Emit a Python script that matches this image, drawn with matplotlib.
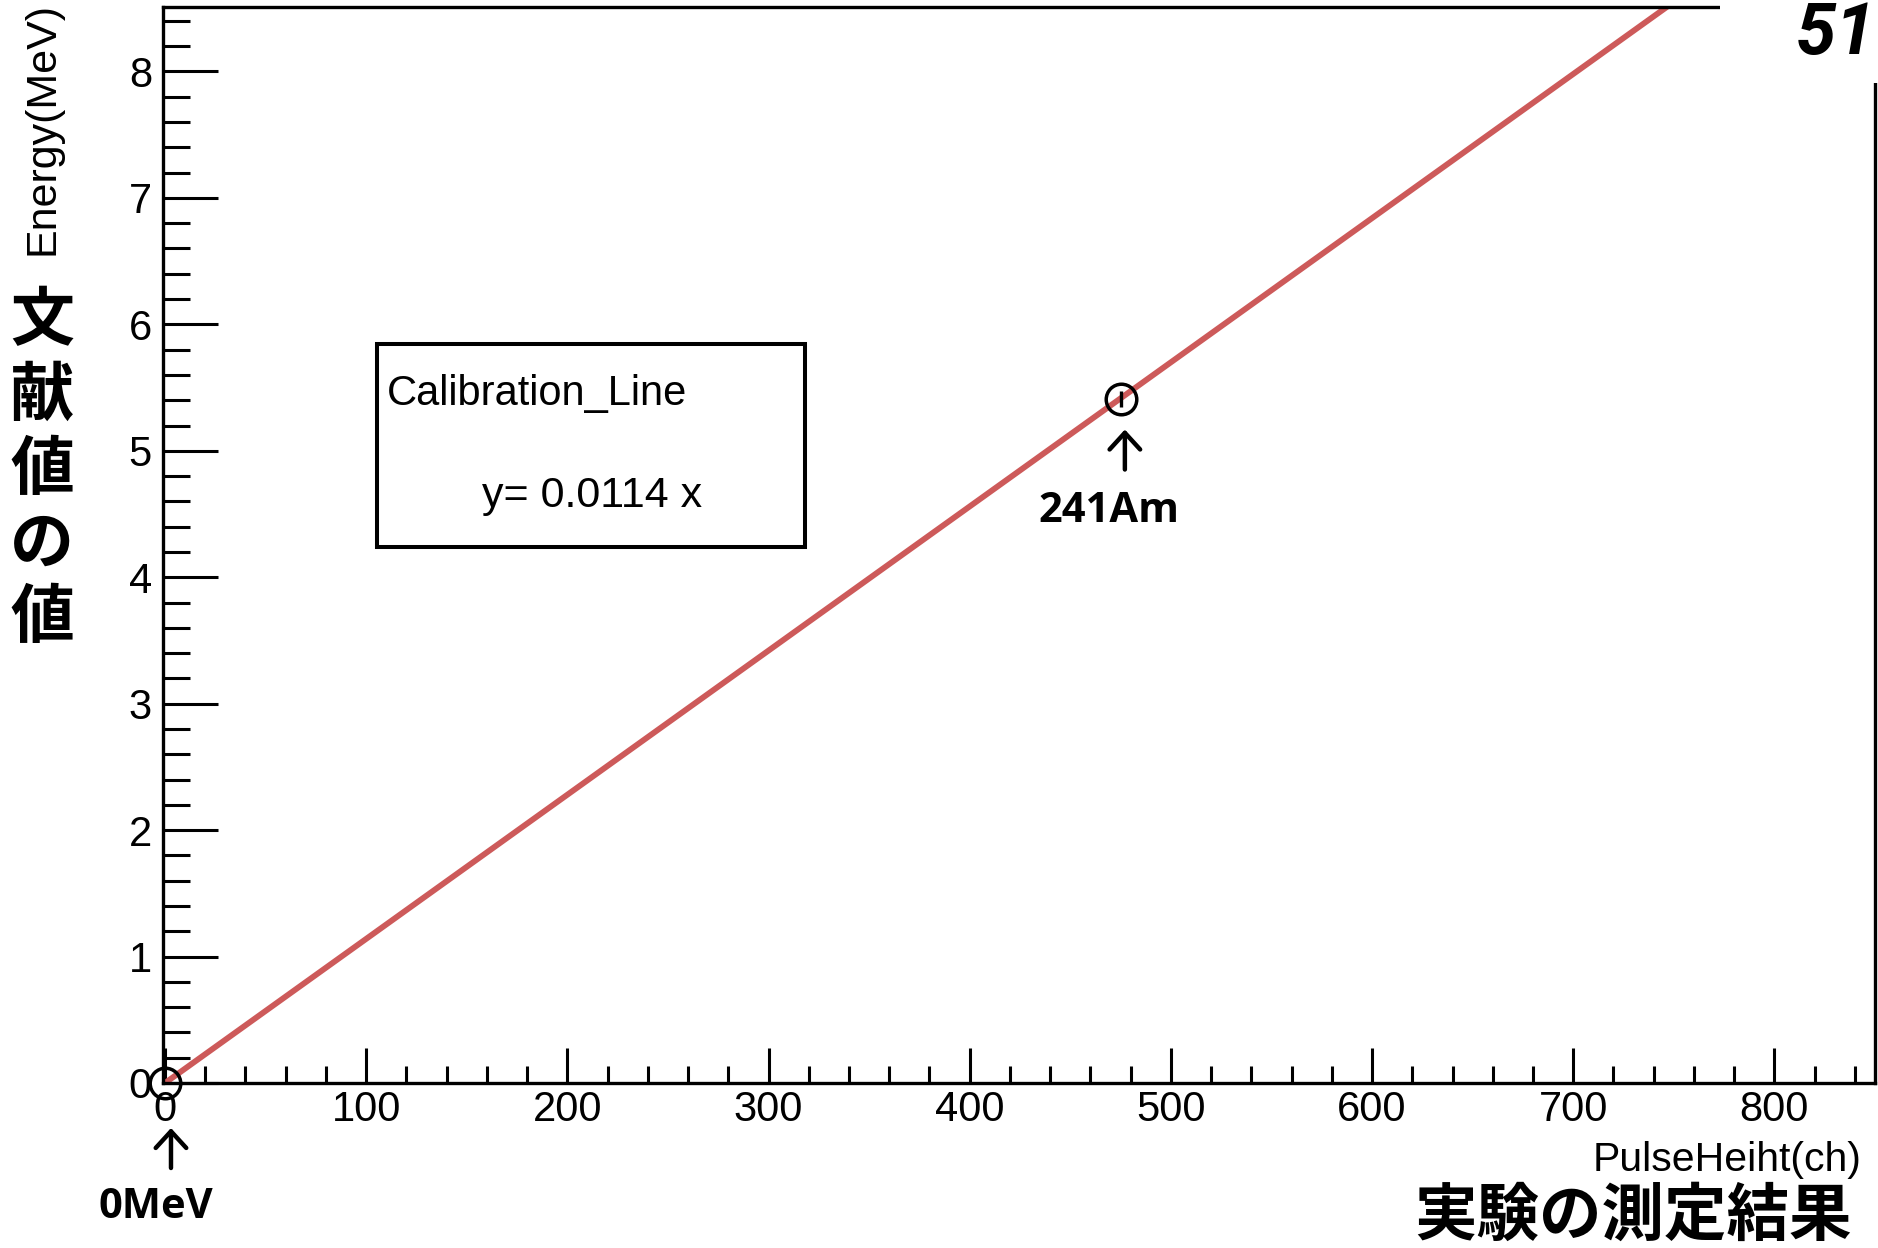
import numpy as np
import matplotlib
matplotlib.use("Agg")
import matplotlib.pyplot as plt
from matplotlib.patches import Rectangle
from matplotlib.transforms import offset_copy

# calibration data
slope = 0.0114
pulse_ch = [0.0, 475.4]        # measured peak position (ch)
energy_mev = [0.0, 5.41]       # literature energy (MeV)
energy_err = [0.0, 0.06]
point_labels = ["0MeV", "241Am"]
fit_range = [0.0, 850.0]

x_ticks = np.arange(0, 801, 100)
y_ticks = np.arange(0, 9, 1)

fig = plt.figure(figsize=(18.78, 12.48), dpi=100)
ax = fig.add_axes([163 / 1878, 1 - 1083 / 1248, 1712 / 1878, 1076 / 1248])

# Fit line
fx = np.array(fit_range)
ax.plot(fx, slope * fx, color="#CD5A5A", lw=4.2, zorder=2, solid_capstyle="butt")

# Points
ax.errorbar(pulse_ch, energy_mev, yerr=energy_err, fmt="o", ms=22, mfc="none",
            mec="black", mew=2.5, ecolor="black", elinewidth=2.4, capsize=0, zorder=3,
            clip_on=False)

ax.set_xlim(-1, 850)
ax.set_ylim(0, 8.51)
ax.set_xticks(x_ticks)
ax.set_yticks(y_ticks)
ax.set_xticks(np.arange(0, 851, 20), minor=True)
ax.set_yticks(np.arange(0, 8.51, 0.2), minor=True)

for sp in ax.spines.values():
    sp.set_linewidth(2.4)
ax.tick_params(axis="both", which="both", direction="in", width=2.2,
               labelsize=30, labelfontfamily="Liberation Sans")
ax.tick_params(axis="y", which="major", length=39.5, pad=8)
ax.tick_params(axis="y", which="minor", length=19.5)
ax.tick_params(axis="x", which="major", length=25, pad=5)
ax.tick_params(axis="x", which="minor", length=12.5)

# Legend-like box
ax.add_patch(Rectangle((0.1248, 0.4984), 0.2502, 0.1884, transform=ax.transAxes,
                       fill=True, facecolor="white", edgecolor="black", lw=2.9, zorder=4))
ax.text(0.1307, 0.630, "Calibration_Line", transform=ax.transAxes, fontsize=30,
        family="Liberation Sans", ha="left", va="baseline", zorder=5)
ax.text(0.1862, 0.5356, f"y= {slope} x", transform=ax.transAxes, fontsize=31,
        family="Liberation Sans", ha="left", va="baseline", zorder=5)

# Annotations: arrows + labels under each point
arrow_dx = [4.3, 2.5]
arrow_tip = [-32.4, -22.0]
arrow_tail = [-61.2, -50.8]
text_off = [(-6.5, -90.0), (-9.0, -81.0)]
for i in range(len(pulse_ch)):
    px, py = pulse_ch[i], energy_mev[i]
    tip = offset_copy(ax.transData, fig=fig, x=arrow_dx[i], y=arrow_tip[i], units="points")
    tail = offset_copy(ax.transData, fig=fig, x=arrow_dx[i], y=arrow_tail[i], units="points")
    ax.annotate("", xy=(px, py), xycoords=tip, xytext=(px, py), textcoords=tail,
                arrowprops=dict(arrowstyle="->,head_length=0.6,head_width=0.55",
                                lw=3.2, color="black", shrinkA=0, shrinkB=0,
                                mutation_scale=20),
                annotation_clip=False)
    ax.annotate(point_labels[i], xy=(px, py), xytext=text_off[i], textcoords="offset points",
                ha="center", va="center", fontsize=30, fontweight="bold",
                family="Open Sans", annotation_clip=False)

# Axis titles (ROOT style) and Japanese captions
fig.text(42 / 1878, 1 - 2 / 1248, "Energy(MeV)", rotation=90, ha="center", va="top",
         fontsize=31, family="Liberation Sans")
fig.text(1862 / 1878, 1 - 1160 / 1248, "PulseHeiht(ch)", ha="right", va="center",
         fontsize=29.5, family="Liberation Sans")
fig.text(1852 / 1878, 1 - 1216 / 1248, "実験の測定結果", ha="right", va="center",
         fontsize=45, fontweight="bold", family="Noto Sans CJK JP")
fig.text(42 / 1878, 1 - 470 / 1248, "文\n献\n値\nの\n値", ha="center", va="center",
         fontsize=46, fontweight="bold", family="Noto Sans CJK JP", linespacing=1.17)

# cut-off page number in top-right corner
fig.add_artist(Rectangle((1720 / 1878, 1 - 83 / 1248), 158 / 1878, 83 / 1248,
                         transform=fig.transFigure, facecolor="white", edgecolor="none",
                         zorder=10))
fig.text(1796 / 1878, 1 - 54 / 1248, "51", ha="left", va="baseline", fontsize=52,
         family="Roboto", fontstyle="italic", fontweight="bold", zorder=11)

fig.savefig("out.png", dpi=100)
